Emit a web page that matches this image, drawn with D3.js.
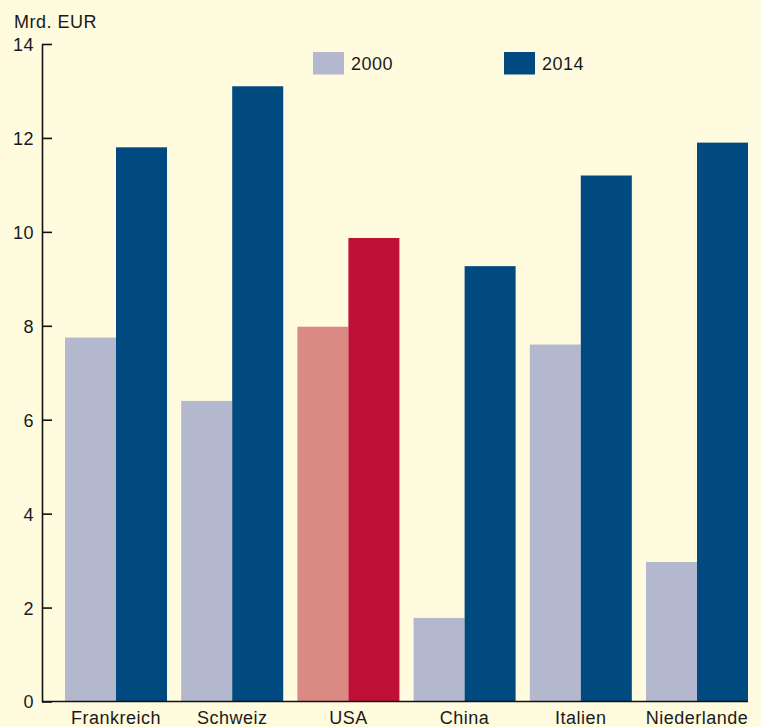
<!DOCTYPE html>
<html>
<head>
<meta charset="utf-8">
<script src="https://cdn.jsdelivr.net/npm/d3@7"></script>
<style>
html, body { margin: 0; padding: 0; background: #FFFBDF; }
svg { display: block; font-family: "Liberation Sans", Arial, Helvetica, sans-serif; }
</style>
</head>
<body>
<script>
const categories = ["Frankreich", "Schweiz", "USA", "China", "Italien", "Niederlande"];
const series = ["2000", "2014"];
const values2000 = [7.75, 6.4, 7.98, 1.78, 7.6, 2.97];
const values2014 = [11.8, 13.1, 9.87, 9.27, 11.2, 11.9];
const yTicks = [0, 2, 4, 6, 8, 10, 12, 14];
const yUnit = "Mrd. EUR";
const highlight = "USA";

const W = 761, H = 727;
const colors = { "2000": "#B3B8CF", "2014": "#004A7F" };
const hiColors = { "2000": "#DA8A82", "2014": "#BF1038" };
const FS = 18, LS = 0.5;

const svg = d3.select("body").append("svg").attr("width", W).attr("height", H);
svg.append("rect").attr("width", W).attr("height", H).attr("fill", "#FFFBDF");

const y = d3.scaleLinear().domain([0, 14]).range([701.5, 44]);
const x0 = d3.scaleBand().domain(categories).range([57.9, 755.1]).paddingInner(0.122).paddingOuter(0.061);
const x1 = d3.scaleBand().domain(series).range([0, x0.bandwidth()]);

const data = categories.map((c, i) => ({ cat: c, vals: [
  { s: "2000", v: values2000[i] }, { s: "2014", v: values2014[i] } ] }));

const g = svg.selectAll("g.grp").data(data).join("g")
  .attr("transform", d => `translate(${x0(d.cat)},0)`);
g.selectAll("rect").data(d => d.vals.map(o => ({ ...o, cat: d.cat }))).join("rect")
  .attr("x", d => x1(d.s))
  .attr("width", x1.bandwidth())
  .attr("y", d => y(d.v))
  .attr("height", d => y(0) - y(d.v))
  .attr("fill", d => d.cat === highlight ? hiColors[d.s] : colors[d.s]);

// y axis
const axisX = 42;
const yAxis = svg.append("g").attr("transform", `translate(${axisX},0)`)
  .call(d3.axisRight(y).tickValues(yTicks).tickSize(10).tickSizeOuter(0).tickFormat(d3.format("d")));
yAxis.select(".domain").attr("stroke", "#111").attr("stroke-width", 1.6);
yAxis.selectAll(".tick line").attr("stroke", "#111").attr("stroke-width", 1.6);
yAxis.selectAll(".tick text")
  .attr("x", -8).attr("dy", "0.36em").attr("text-anchor", "end")
  .attr("font-size", FS).attr("letter-spacing", LS).attr("fill", "#1a1a1a")
  .attr("font-family", "Liberation Sans, Arial, sans-serif");

// baseline
svg.append("line").attr("x1", axisX).attr("x2", 748).attr("y1", y(0)).attr("y2", y(0))
  .attr("stroke", "#111").attr("stroke-width", 1.6);

// x labels
const xAxis = svg.append("g").attr("transform", `translate(0,${y(0)})`)
  .call(d3.axisBottom(x0).tickSize(0).tickPadding(0));
xAxis.select(".domain").remove();
xAxis.selectAll(".tick text").attr("y", 22.8).attr("dy", 0)
  .attr("font-size", FS).attr("letter-spacing", LS).attr("fill", "#1a1a1a")
  .attr("font-family", "Liberation Sans, Arial, sans-serif");

// unit
svg.append("text").attr("x", 14).attr("y", 28).text(yUnit)
  .attr("font-size", FS).attr("letter-spacing", LS).attr("fill", "#1a1a1a");

// legend
const legendX = [313, 504];
series.forEach((s, i) => {
  svg.append("rect").attr("x", legendX[i]).attr("y", 52).attr("width", 31).attr("height", 22.5)
    .attr("fill", colors[s]);
  svg.append("text").attr("x", legendX[i] + 38).attr("y", 69.5).text(s)
    .attr("font-size", FS).attr("letter-spacing", LS).attr("fill", "#1a1a1a");
});
</script>
</body>
</html>
